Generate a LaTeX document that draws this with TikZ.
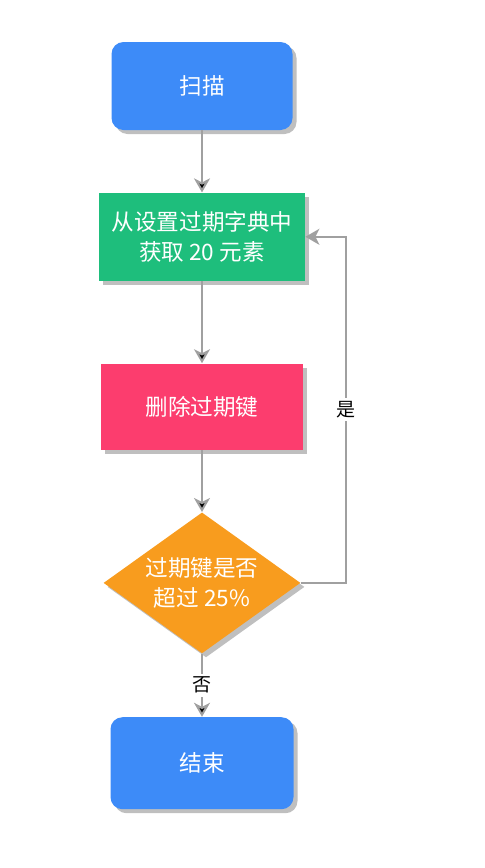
\documentclass[tikz,border=0pt]{standalone}
\usepackage{fontspec}
\setmainfont{Noto Sans CJK SC}
\usepackage{tikz}
\usetikzlibrary{arrows.meta,positioning,shapes.geometric,shadows}
\definecolor{termblue}{RGB}{61,139,248}
\definecolor{fetchgreen}{RGB}{30,190,124}
\definecolor{delred}{RGB}{252,61,110}
\definecolor{checkorange}{RGB}{248,156,30}
\definecolor{linegray}{RGB}{160,160,160}
\tikzset{
    %Define standard arrow tip
    >={Stealth[length=7pt,width=8pt,inset=2pt]},
    %Define style for boxes
    term/.style={
           rectangle,
           rounded corners=6pt,
           fill=termblue,
           minimum width=90.5pt,
           minimum height=44pt,
           font=\fontsize{11.3}{15}\selectfont,
           text=white,
           text centered,
           drop shadow={shadow xshift=2pt,shadow yshift=-2pt,fill=black!25,opacity=1}},
    proc/.style={
           rectangle,
           minimum width=101pt,
           minimum height=43pt,
           font=\fontsize{11.3}{15}\selectfont,
           text=white,
           align=center,
           drop shadow={shadow xshift=2pt,shadow yshift=-2pt,fill=black!25,opacity=1}},
    decide/.style={
           diamond,
           inner sep=-10pt,
           fill=checkorange,
           minimum width=98.5pt,
           minimum height=70.5pt,
           font=\fontsize{11.3}{15}\selectfont,
           text=white,
           align=center,
           drop shadow={shadow xshift=2pt,shadow yshift=-2pt,fill=black!25,opacity=1}},
    % Define arrow style
    pil/.style={
           ->,
           draw=linegray,
           line width=1pt},
    lbl/.style={
           fill=white,
           inner sep=1.5pt,
           font=\fontsize{9.5}{12}\selectfont,
           text=black}
}
\begin{document}
\begin{tikzpicture}
\useasboundingbox (0,0) rectangle (242pt,-434pt);
\node[term] (1) at (101pt,-43pt) {扫描};
\node[proc, fill=fetchgreen, minimum width=103pt, minimum height=44pt, below=31pt of 1] (2) {从设置过期字典中\\获取 20 元素};
\node[proc, fill=delred, below=41pt of 2] (3) {删除过期键};
\node[decide, below=31pt of 3] (4) {过期键是否\\超过 25\%};
\node[term, minimum width=91.5pt, minimum height=46pt, below=31.5pt of 4] (5) {结束};
 \path[pil]
    (1) edge (2)
    (2) edge (3)
    (3) edge (4)
    (4) edge node[lbl] {否} (5);
\draw[pil] (4.east) -- ++(22.5pt,0) |- node[lbl, pos=0.25] {是} (2.east);
\end{tikzpicture}
\end{document}
